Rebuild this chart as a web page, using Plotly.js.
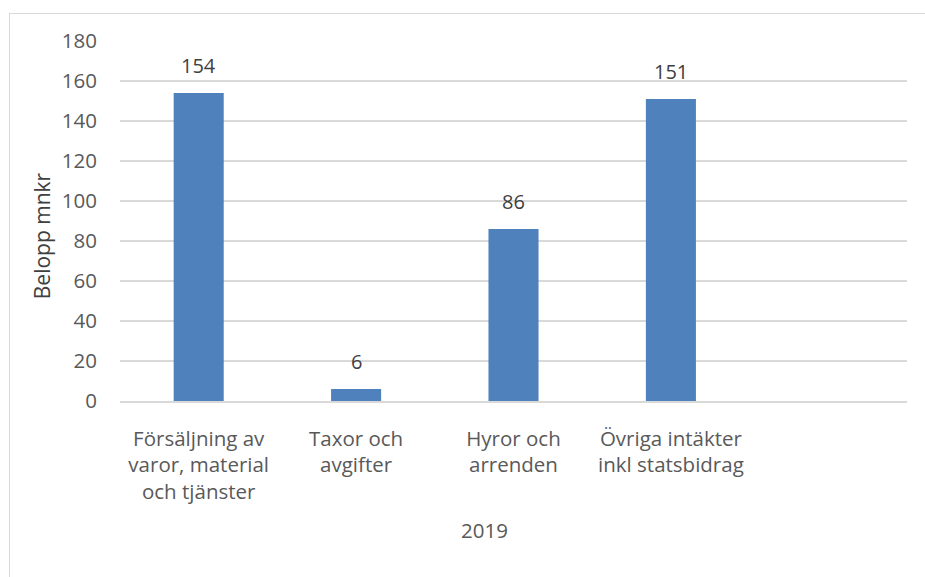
<!DOCTYPE html>
<html>
<head>
<meta charset="utf-8">
<script src="https://cdn.plot.ly/plotly-3.0.1.min.js"></script>
<style>
html,body{margin:0;padding:0;background:#fff;}
#chart{width:925px;height:577px;}
#frame{position:absolute;left:9px;top:13px;width:930px;height:580px;border:1px solid #d9d9d9;box-sizing:border-box;pointer-events:none;}
</style>
</head>
<body>
<div id="chart"></div>
<div id="frame"></div>
<script>
var categories = ["Försäljning av<br>varor, material<br>och tjänster", "Taxor och<br>avgifter", "Hyror och<br>arrenden", "Övriga intäkter<br>inkl statsbidrag", " "];
var values = [154, 6, 86, 151];
var labels = ["154", "6", "86", "151"];
var groupLabel = "2019";
var yTitle = "Belopp mnkr";

var font = "'Open Sans', 'Noto Sans', sans-serif";

var trace = {
  type: "bar",
  x: categories.slice(0, values.length),
  y: values,
  marker: {color: "#4f81bd"},
  hoverinfo: "none"
};

var annotations = values.map(function(v, i){
  return {
    x: categories[i], y: v, xref: "x", yref: "y",
    text: labels[i], showarrow: false,
    yanchor: "bottom", yshift: 12,
    font: {family: font, size: 20, color: "#404040"}
  };
});
annotations.push({
  x: 0.463, y: 0, xref: "paper", yref: "paper",
  text: groupLabel, showarrow: false,
  yanchor: "middle", yshift: -129,
  font: {family: font, size: 20.5, color: "#595959"}
});
annotations.push({
  x: -0.099, y: 0.458, xref: "paper", yref: "paper",
  text: yTitle, showarrow: false, textangle: -90,
  xanchor: "center", yanchor: "middle",
  font: {family: font, size: 21, color: "#404040"}
});

var layout = {
  width: 925, height: 577,
  margin: {l: 120, r: 18, t: 41, b: 176},
  paper_bgcolor: "#fff", plot_bgcolor: "#fff",
  bargap: 0.682,
  showlegend: false,
  font: {family: font, size: 20.5, color: "#595959"},
  xaxis: {
    type: "category",
    categoryorder: "array",
    categoryarray: categories,
    range: [-0.5, categories.length - 0.5],
    showgrid: false, zeroline: false,
    showline: true, linecolor: "#d9d9d9", linewidth: 2,
    ticks: "", ticklen: 0,
    tickfont: {family: font, size: 20.5, color: "#595959"},
    ticklabelstandoff: 18,
    fixedrange: true
  },
  yaxis: {
    range: [0, 180], dtick: 20, tick0: 0,
    showgrid: true, gridcolor: "#d9d9d9", gridwidth: 1.5,
    zeroline: false, showline: false,
    ticks: "", ticklen: 0,
    tickfont: {family: font, size: 20.5, color: "#595959"},
    ticklabelstandoff: 22,
    fixedrange: true
  },
  annotations: annotations
};

Plotly.newPlot("chart", [trace], layout, {displayModeBar: false, staticPlot: true});
</script>
</body>
</html>
